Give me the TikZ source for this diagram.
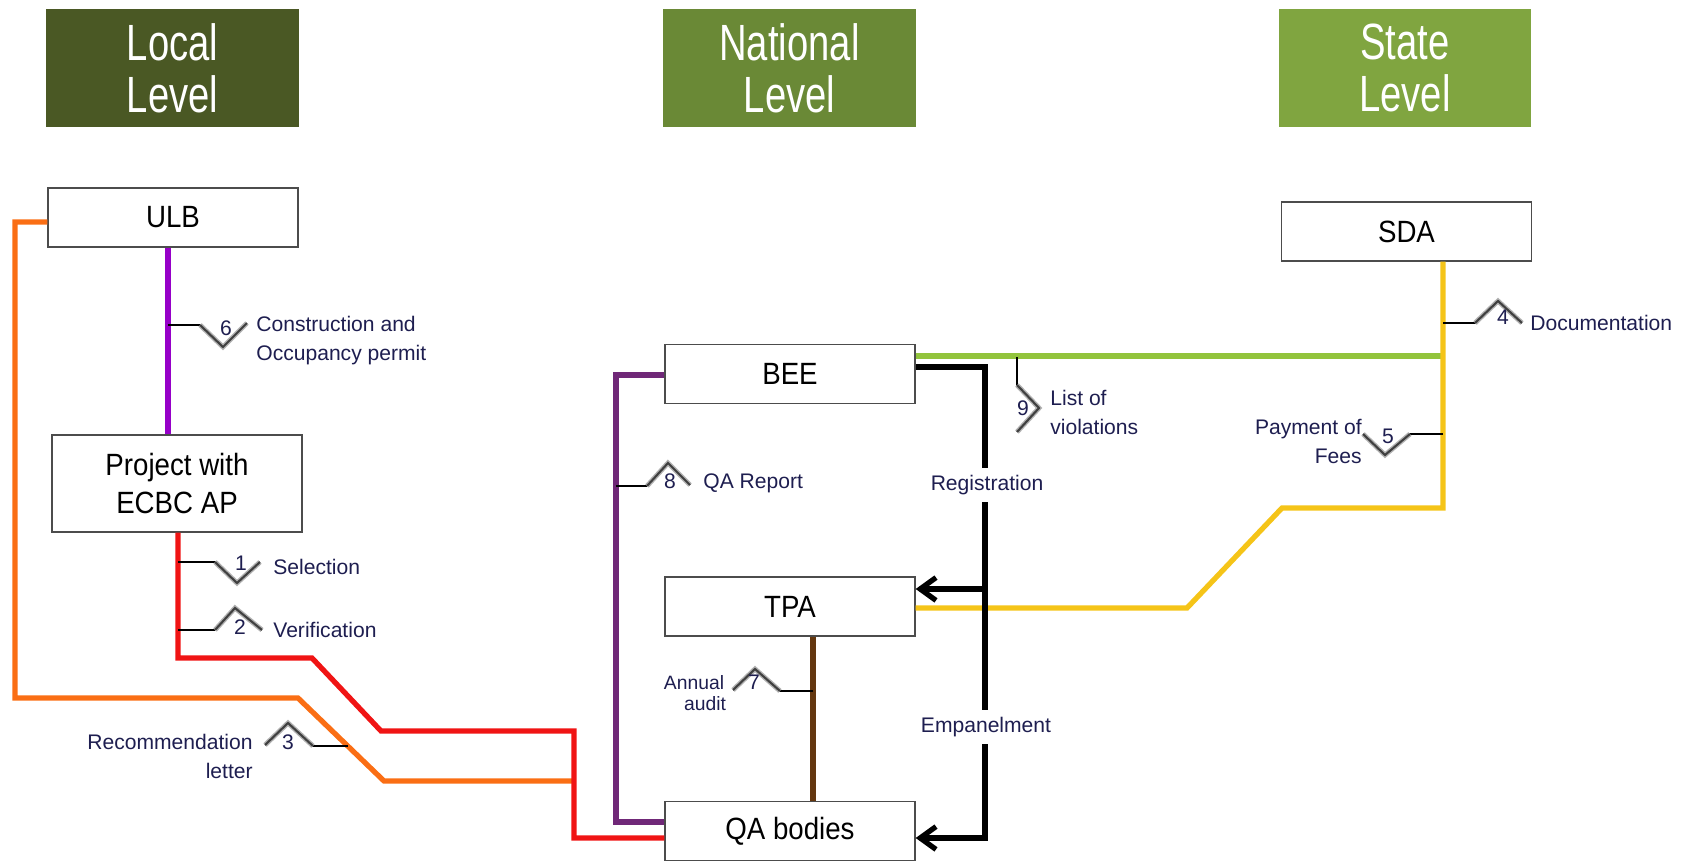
\documentclass[tikz,border=0pt]{standalone}
\usepackage{fontspec}
\setmainfont{Liberation Sans}
\newfontfamily\headfont[FakeStretch=0.75]{Liberation Sans}
\newfontfamily\boxfont[FakeStretch=0.9]{Liberation Sans}
\usepackage{tikz}
\usetikzlibrary{arrows.meta}
\definecolor{localgreen}{RGB}{74,88,36}
\definecolor{natgreen}{RGB}{106,137,54}
\definecolor{stategreen}{RGB}{128,165,64}
\definecolor{limegreen}{RGB}{146,196,60}
\definecolor{sdagold}{RGB}{245,196,24}
\definecolor{ulbviolet}{RGB}{150,0,200}
\definecolor{qapurple}{RGB}{112,40,120}
\definecolor{auditbrown}{RGB}{100,55,15}
\definecolor{ecbcred}{RGB}{240,20,20}
\definecolor{recorange}{RGB}{250,110,20}
\definecolor{labelblue}{RGB}{30,30,80}

\begin{document}
\begin{tikzpicture}[x=0.02cm,y=-0.02cm]
\useasboundingbox (0,0) rectangle (1685,862);
\tikzstyle{level}=[rectangle, text=white, minimum width=5.06cm, minimum height=2.36cm,
    inner sep=0pt, align=center, font=\headfont\fontsize{29}{29.6}\selectfont]
\tikzstyle{unit}=[rectangle, draw=black!70, fill=white, line width=0.8pt,
    minimum width=5cm, minimum height=1.18cm, inner sep=0pt, align=center,
    font=\boxfont\fontsize{17.5}{22}\selectfont]
\tikzstyle{flow}=[line width=3pt]
\tikzstyle{stub}=[line width=1.1pt]
\tikzstyle{zig}=[draw=black!75, line width=1.2pt, preaction={draw=black!30, line width=2.8pt}]
\tikzstyle{note}=[text=labelblue, inner sep=0pt, font=\fontsize{12}{16.5}\selectfont]
\tikzstyle{tip}=[-{Straight Barb[length=9pt,width=13pt]}]

\node[level, fill=localgreen] (local) at (172.5,68) {Local\\Level};
\node[level, fill=natgreen] (national) at (789.5,68) {National\\Level};
\node[level, fill=stategreen] (state) at (1405,68) {State\\Level};

\node[unit] (ulb) at (173,217.5) {ULB};
\node[unit, minimum height=1.94cm] (proj) at (177,483.5) {Project with\\ECBC AP};
\node[unit] (sda) at (1406.5,231.5) {SDA};
\node[unit] (bee) at (790,374) {BEE};
\node[unit] (tpa) at (790,606.5) {TPA};
\node[unit] (qa) at (790,831) {QA bodies};

\draw[flow, draw=recorange] (ulb.west |- 0,222) -- (15,222) -- (15,698) -- (298,698)
    -- (384,781) -- (574,781);
\draw[flow, draw=ecbcred] (proj.south -| 178,0) -- (178,658) -- (312,658) -- (381,731)
    -- (574,731) -- (574,838) -- (qa.west |- 0,838);
\draw[flow, draw=ulbviolet] (ulb.south -| 168,0) -- (proj.north -| 168,0);
\draw[flow, draw=qapurple] (bee.west |- 0,375) -- (616,375) -- (616,822) -- (qa.west |- 0,822);
\draw[flow, draw=auditbrown] (tpa.south -| 813,0) -- (qa.north -| 813,0);
\draw[flow, draw=limegreen] (bee.east |- 0,356) -- (1443,356);
\draw[flow, draw=sdagold] (sda.south -| 1443,0) -- (1443,508) -- (1282,508) -- (1187,608)
    -- (tpa.east |- 0,608);
\draw[flow, tip] (bee.east |- 0,367) -| (985,838) -- (qa.east |- 0,838);
\draw[flow, tip] (985,589) -- (tpa.east |- 0,589);

\node[note, fill=white, inner sep=4pt] (reg) at (987,485) {Registration};
\node[note, fill=white, inner sep=4pt] (emp) at (986,727) {Empanelment};

\coordinate (s1) at (178,562);
\coordinate (s2) at (178,630);
\coordinate (s3) at (348,746);
\coordinate (s4) at (1443,323);
\coordinate (s5) at (1443,434);
\coordinate (s6) at (168,325);
\coordinate (s7) at (813,691);
\coordinate (s8) at (616,486);
\coordinate (s9) at (1017,357);

\draw[stub] (s1) -- ++(37,0) coordinate (z1);
\draw[zig] (z1) -- ++(22,21) -- ++(23,-21);
\draw[stub] (s2) -- ++(37,0) coordinate (z2);
\draw[zig] (z2) -- ++(20,-22) -- ++(27,22);
\draw[stub] (s3) -- ++(-35,0) coordinate (z3);
\draw[zig] (z3) -- ++(-25,-23) -- ++(-23,22);
\draw[stub] (s4) -- ++(32,0) coordinate (z4);
\draw[zig] (z4) -- ++(23,-22) -- ++(24,22);
\draw[stub] (s5) -- ++(-33,0) coordinate (z5);
\draw[zig] (z5) -- ++(-25,21) -- ++(-22,-21);
\draw[stub] (s6) -- ++(32,0) coordinate (z6);
\draw[zig] (z6) -- ++(23,22) -- ++(24,-24);
\draw[stub] (s7) -- ++(-33,0) coordinate (z7);
\draw[zig] (z7) -- ++(-25,-22) -- ++(-22,21);
\draw[stub] (s8) -- ++(31,0) coordinate (z8);
\draw[zig] (z8) -- ++(21,-23) -- ++(22,22);
\draw[stub] (s9) -- ++(0,28) coordinate (z9);
\draw[zig] (z9) -- ++(22,23) -- ++(-22,24);

\node[note] (n1) at (241,563) {1};
\node[note] (n2) at (240,627) {2};
\node[note] (n3) at (288,742) {3};
\node[note] (n4) at (1503,317) {4};
\node[note] (n5) at (1388,436) {5};
\node[note] (n6) at (226,328) {6};
\node[note] (n7) at (754,682) {7};
\node[note] (n8) at (670,481) {8};
\node[note] (n9) at (1023,408) {9};

\node[note, anchor=west] (t1) at (273,567) {Selection};
\node[note, anchor=west] (t2) at (273,630) {Verification};
\node[note, anchor=east, align=right] (t3) at (253,756) {Recommendation\\letter};
\node[note, anchor=west] (t4) at (1530,323) {Documentation};
\node[note, anchor=east, align=right] (t5) at (1362,441) {Payment of\\Fees};
\node[note, anchor=west, align=left] (t6) at (256,341) {Construction and\\Occupancy permit};
\node[note, font=\fontsize{11}{12}\selectfont] (t7) at (694,683) {Annual};
\node[note, font=\fontsize{11}{12}\selectfont] (t7b) at (705,704) {audit};
\node[note, anchor=west] (t8) at (703,483) {QA Report};
\node[note, anchor=west, align=left] (t9) at (1050,412) {List of\\violations};
\end{tikzpicture}
\end{document}
